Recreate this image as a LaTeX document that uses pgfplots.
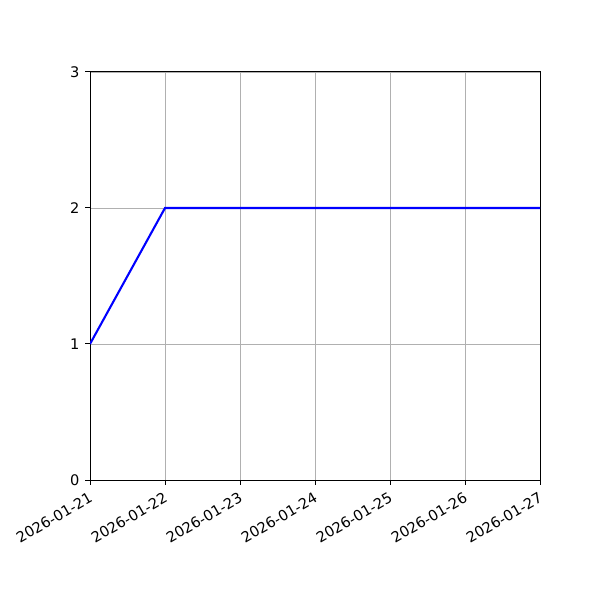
\documentclass[border=0pt]{standalone}
\usepackage{pgfplots}
\pgfplotsset{compat=1.18}
\usepackage{fontspec}
\setmainfont{DejaVu Sans}
\begin{document}
\begin{tikzpicture}
\useasboundingbox (0,0) rectangle (6in,6in);
\begin{axis}[
  at={(0.9in,1.2in)}, anchor=south west,
  scale only axis, width=4.5in, height=4.08in,
  xmin=0, xmax=6, ymin=0, ymax=3,
  xtick={0,1,2,3,4,5,6},
  xticklabels={2026-01-21,2026-01-22,2026-01-23,2026-01-24,2026-01-25,2026-01-26,2026-01-27},
  ytick={0,1,2,3},
  /pgf/number format/assume math mode=true,
  tick label style={font=\fontsize{10.5bp}{12bp}\selectfont},
  xticklabel style={rotate=30, anchor=north east, inner sep=1bp, yshift=-2.5bp, xshift=-2.5bp},
  yticklabel style={inner sep=2bp, xshift=-2bp},
  tick align=outside, major tick length=3.5bp,
  tick style={black, line width=0.72bp},
  xtick pos=bottom, ytick pos=left,
  grid=major, grid style={color=black!31, line width=0.6bp},
  axis line style={line width=0.72bp},
]
\addplot[color=blue, line width=1.5bp] coordinates {(0,1) (1,2) (2,2) (3,2) (4,2) (5,2) (6,2)};
\end{axis}
\end{tikzpicture}
\end{document}
